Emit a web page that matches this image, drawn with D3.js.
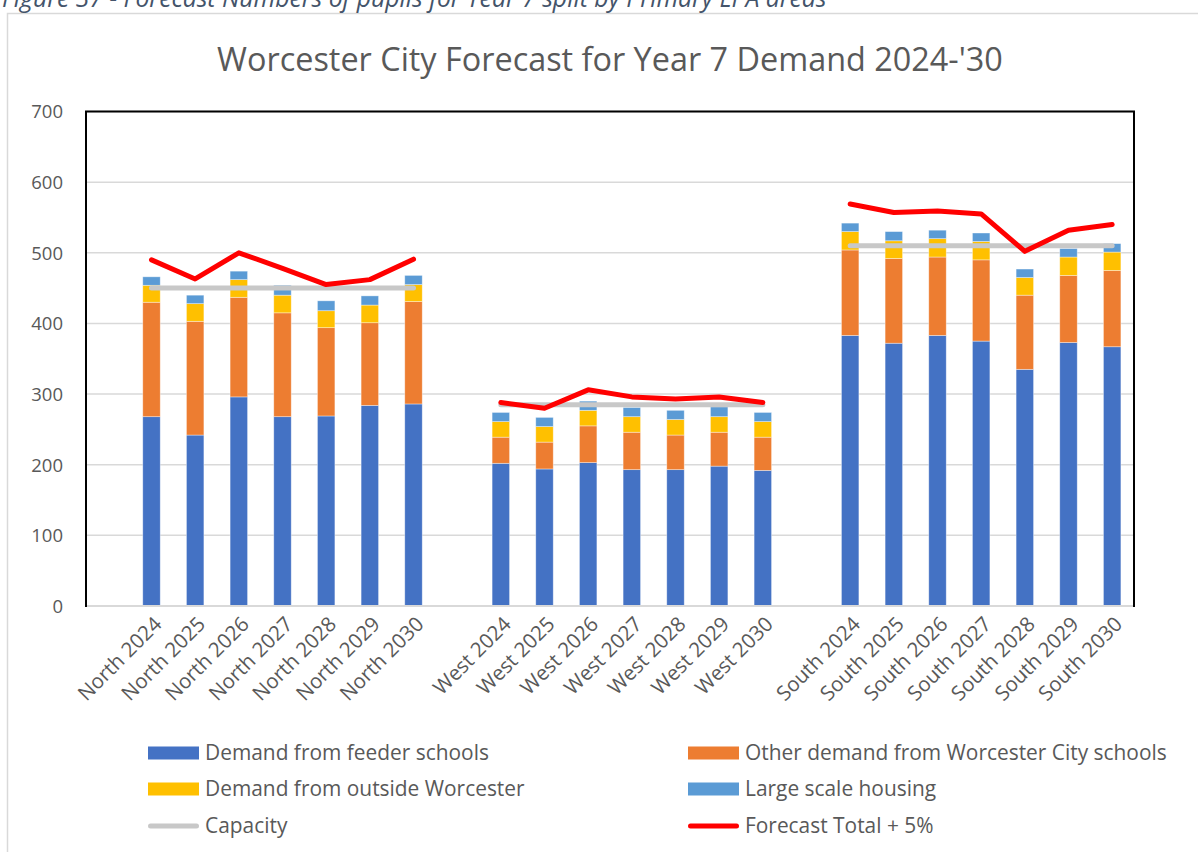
<!DOCTYPE html>
<html>
<head>
<meta charset="utf-8">
<script src="https://cdn.jsdelivr.net/npm/d3@7"></script>
<style>
  html, body { margin: 0; padding: 0; background: #fff; }
  svg { display: block; }
  text { font-family: "Open Sans", "Noto Sans", sans-serif; }
</style>
</head>
<body>
<svg id="chart" width="1198" height="852"></svg>
<script>
// ---- Data ----
const areas = ["North", "West", "South"];
const categories = [
  "North 2024", "North 2025", "North 2026", "North 2027", "North 2028", "North 2029", "North 2030",
  "West 2024", "West 2025", "West 2026", "West 2027", "West 2028", "West 2029", "West 2030",
  "South 2024", "South 2025", "South 2026", "South 2027", "South 2028", "South 2029", "South 2030"
];
const feederSchools    = [268, 242, 296, 268, 269, 284, 286,  202, 194, 203, 193, 193, 198, 192,  383, 372, 383, 375, 335, 373, 367];
const otherCitySchools = [162, 161, 141, 147, 125, 117, 145,   37,  38,  52,  53,  49,  48,  47,  121, 120, 111, 115, 105,  95, 108];
const outsideWorcester = [ 24,  25,  25,  25,  24,  25,  24,   22,  22,  22,  22,  22,  22,  22,   26,  25,  26,  26,  25,  26,  26];
const largeHousing     = [ 12,  12,  12,  14,  14,  13,  13,   13,  13,  13,  13,  13,  14,  13,   12,  13,  12,  12,  12,  12,  12];
const capacity         = [450, 450, 450, 450, 450, 450, 450,  285, 285, 285, 285, 285, 285, 285,  510, 510, 510, 510, 510, 510, 510];
const forecastPlus5    = [490, 463, 500, 478, 455, 462, 491,  288, 280, 306, 296, 293, 296, 288,  569, 557, 559, 555, 502, 532, 540];
const yTicks = [0, 100, 200, 300, 400, 500, 600, 700];

const seriesNames = [
  "Demand from feeder schools",
  "Other demand from Worcester City schools",
  "Demand from outside Worcester",
  "Large scale housing"
];
const seriesColors = ["#4472c4", "#ed7d31", "#ffc000", "#5b9bd5"];
const capacityColor = "#c8c8c8";
const forecastColor = "#ff0000";
const textColor = "#595959";

// ---- Layout ----
const svg = d3.select("#chart");
const plot = { left: 86, right: 1134, top: 111.5, bottom: 606 };

// Each area is preceded by an empty slot, which separates the groups.
const slots = [];
areas.forEach((a, ai) => {
  slots.push("__gap" + ai);
  categories.filter(c => c.startsWith(a + " ")).forEach(c => slots.push(c));
});

const x = d3.scaleBand().domain(slots).range([plot.left, plot.right]).paddingInner(0).paddingOuter(0);
const y = d3.scaleLinear().domain([0, 700]).range([plot.bottom, plot.top]);
const barW = x.bandwidth() * 0.4;
const cx = c => x(c) + x.bandwidth() / 2;

function fitWidth(sel, target) {
  const w = sel.node().getComputedTextLength();
  const fs = parseFloat(sel.attr("font-size"));
  const size = fs * target / w;
  sel.attr("font-size", size.toFixed(2));
  return size;
}

// Outer chart frame
svg.append("rect")
  .attr("x", 7.5).attr("y", 13.5).attr("width", 1250).attr("height", 900)
  .attr("fill", "#fff").attr("stroke", "#d9d9d9").attr("stroke-width", 1.5);

// Figure caption, running off the top of the page
const caption = svg.append("text")
  .attr("x", 2).attr("y", 7)
  .attr("font-family", "Liberation Sans, Arial, sans-serif")
  .attr("font-style", "italic")
  .attr("font-size", 18)
  .attr("fill", "#44546a")
  .text("Figure 37 - Forecast Numbers of pupils for Year 7 split by Primary LPA areas");
fitWidth(caption, 825);

// Title
const title = svg.append("text")
  .attr("x", 610).attr("y", 71)
  .attr("text-anchor", "middle")
  .attr("font-size", 30)
  .attr("fill", textColor)
  .text("Worcester City Forecast for Year 7 Demand 2024-'30");
fitWidth(title, 786);

// Gridlines
svg.append("g")
  .selectAll("line")
  .data(yTicks)
  .join("line")
  .attr("x1", plot.left).attr("x2", plot.right)
  .attr("y1", d => y(d)).attr("y2", d => y(d))
  .attr("stroke", "#d9d9d9").attr("stroke-width", 1.5);

// Y axis labels
const yAxis = d3.axisLeft(y).tickValues(yTicks).tickSize(0).tickPadding(0);
const gy = svg.append("g").attr("transform", "translate(63,0)").call(yAxis);
gy.select(".domain").remove();
gy.selectAll("text")
  .attr("font-family", "Open Sans, sans-serif")
  .attr("font-size", 18.5)
  .attr("fill", textColor)
  .attr("dy", "0.35em");

// Stacked bars
const rows = categories.map((c, i) => ({
  cat: c,
  s0: feederSchools[i],
  s1: otherCitySchools[i],
  s2: outsideWorcester[i],
  s3: largeHousing[i]
}));
const stacked = d3.stack().keys(["s0", "s1", "s2", "s3"])(rows);

svg.append("g")
  .selectAll("g")
  .data(stacked)
  .join("g")
  .attr("fill", (d, i) => seriesColors[i])
  .selectAll("rect")
  .data(d => d)
  .join("rect")
  .attr("x", d => cx(d.data.cat) - barW / 2)
  .attr("width", barW)
  .attr("y", d => y(d[1]))
  .attr("height", d => y(d[0]) - y(d[1]))
  .attr("stroke", "#ffffff").attr("stroke-opacity", 0.5).attr("stroke-width", 0.75);

// Plot area border and category axis line
svg.append("rect")
  .attr("x", plot.left).attr("y", plot.top)
  .attr("width", plot.right - plot.left).attr("height", plot.bottom - plot.top)
  .attr("fill", "none").attr("stroke", "#000").attr("stroke-width", 2);
svg.append("line")
  .attr("x1", plot.left + 1).attr("x2", plot.right - 1)
  .attr("y1", plot.bottom).attr("y2", plot.bottom)
  .attr("stroke", "#d9d9d9").attr("stroke-width", 2);

// Lines: one segment per area
function drawLine(values, color, width) {
  const line = d3.line().x(d => cx(d.cat)).y(d => y(d.v));
  areas.forEach(a => {
    const pts = categories
      .map((c, i) => ({ cat: c, v: values[i] }))
      .filter(p => p.cat.startsWith(a + " "));
    svg.append("path")
      .attr("d", line(pts))
      .attr("fill", "none")
      .attr("stroke", color)
      .attr("stroke-width", width)
      .attr("stroke-linecap", "round")
      .attr("stroke-linejoin", "round");
  });
}
drawLine(capacity, capacityColor, 5);
drawLine(forecastPlus5, forecastColor, 5);

// Category labels, rotated
svg.append("g")
  .selectAll("text")
  .data(categories)
  .join("text")
  .attr("transform", d => `translate(${cx(d) + 1},615) rotate(-45)`)
  .attr("text-anchor", "end")
  .attr("dy", "0.72em")
  .attr("font-size", 20.5)
  .attr("fill", textColor)
  .text(d => d);

// Legend
const legendItems = [
  { name: seriesNames[0], color: seriesColors[0], type: "box", col: 0, row: 0 },
  { name: seriesNames[1], color: seriesColors[1], type: "box", col: 1, row: 0 },
  { name: seriesNames[2], color: seriesColors[2], type: "box", col: 0, row: 1 },
  { name: seriesNames[3], color: seriesColors[3], type: "box", col: 1, row: 1 },
  { name: "Capacity", color: capacityColor, type: "line", col: 0, row: 2 },
  { name: "Forecast Total + 5%", color: forecastColor, type: "line", col: 1, row: 2 }
];
const colX = [148, 688];
const rowY = [753, 789, 826];
const lg = svg.append("g")
  .selectAll("g")
  .data(legendItems)
  .join("g")
  .attr("transform", d => `translate(${colX[d.col]},${rowY[d.row]})`);
lg.filter(d => d.type === "box").append("rect")
  .attr("x", 0).attr("y", -6.5).attr("width", 51).attr("height", 13)
  .attr("fill", d => d.color);
lg.filter(d => d.type === "line").append("line")
  .attr("x1", 2.5).attr("x2", 48.5).attr("y1", 0).attr("y2", 0)
  .attr("stroke", d => d.color).attr("stroke-width", 5).attr("stroke-linecap", "round");
const legendText = lg.append("text")
  .attr("x", 57).attr("y", 0).attr("dy", "0.35em")
  .attr("font-size", 18)
  .attr("fill", textColor)
  .text(d => d.name);
// Size the legend so its longest entry spans its column
const longest = legendText.filter(d => d.name === seriesNames[1]);
const legendSize = fitWidth(longest, 422);
legendText.attr("font-size", legendSize.toFixed(2));
</script>
</body>
</html>
